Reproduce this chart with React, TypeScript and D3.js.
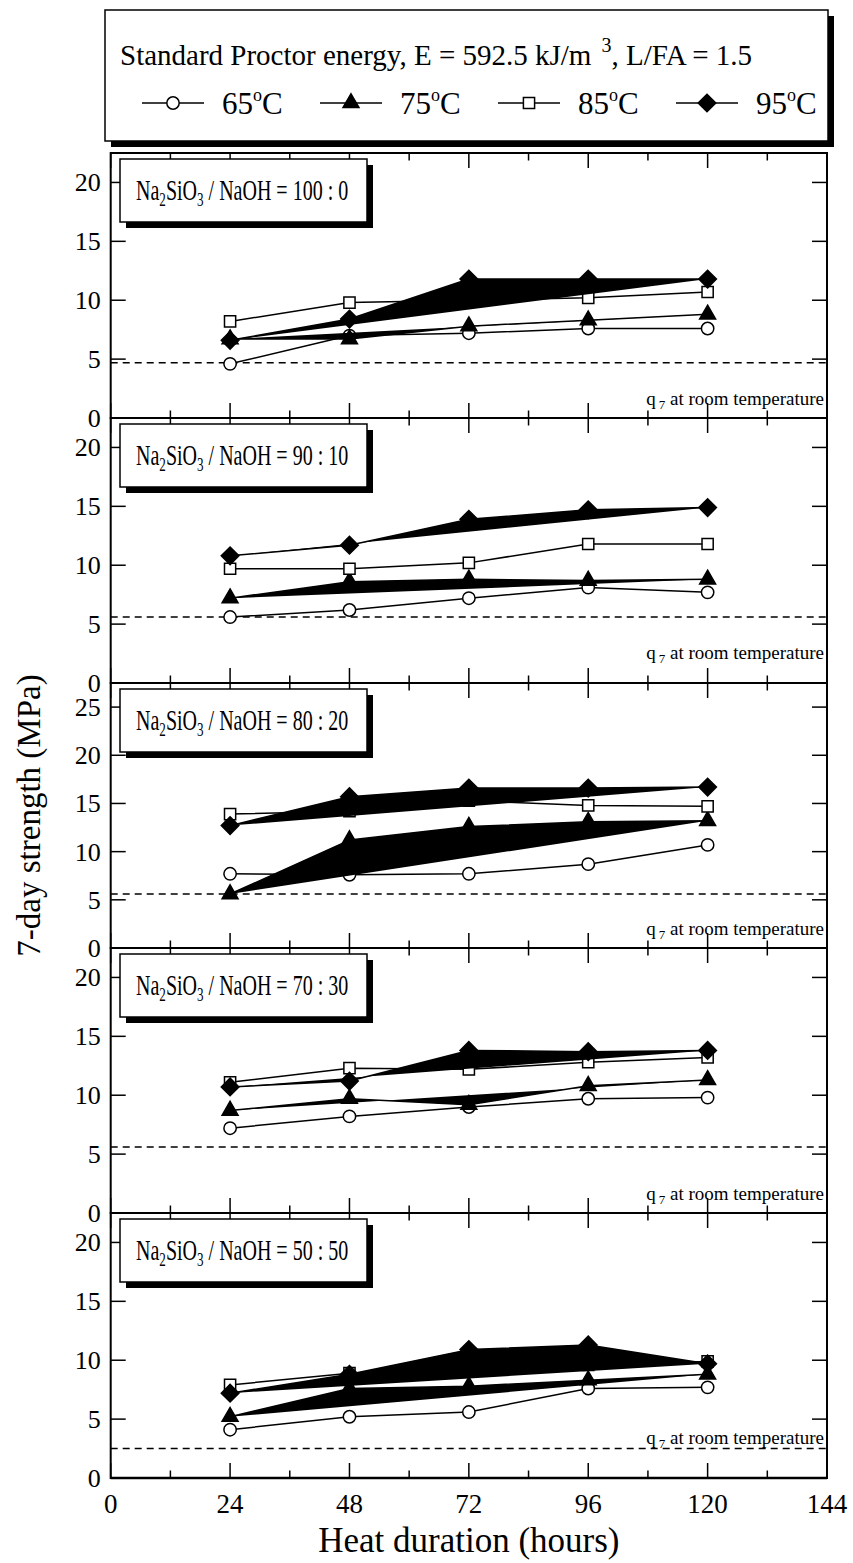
import React from "react";
import * as d3 from "d3";

// heat duration (hours) at which specimens were tested
const hours = [24, 48, 72, 96, 120];
const temperatures = ["65", "75", "85", "95"];
const ratioLabels = ["100 : 0", "90 : 10", "80 : 20", "70 : 30", "50 : 50"];
const xTicks = [0, 24, 48, 72, 96, 120, 144];
const yMaxes = [22.5, 22.5, 27.5, 22.5, 22.5];
const yTicksSmall = [0, 5, 10, 15, 20];
const yTicksLarge = [0, 5, 10, 15, 20, 25];
// q7 at room temperature (dashed line)
const roomQ7 = [4.7, 5.6, 5.6, 5.6, 2.5];

// 7-day strength (MPa), rows = 65, 75, 85, 95 degC
const ratio100_0 = [
  [4.6, 7.0, 7.2, 7.6, 7.6],
  [6.7, 6.7, 7.8, 8.3, 8.8],
  [8.2, 9.8, 10.0, 10.2, 10.7],
  [6.6, 8.4, 11.8, 11.8, 11.8],
];
const ratio90_10 = [
  [5.6, 6.2, 7.2, 8.1, 7.7],
  [7.2, 8.6, 8.8, 8.7, 8.8],
  [9.7, 9.7, 10.2, 11.8, 11.8],
  [10.8, 11.7, 13.9, 14.7, 14.9],
];
const ratio80_20 = [
  [7.7, 7.6, 7.7, 8.7, 10.7],
  [5.6, 11.2, 12.6, 13.1, 13.2],
  [13.9, 14.2, 15.3, 14.8, 14.7],
  [12.7, 15.7, 16.6, 16.6, 16.7],
];
const ratio70_30 = [
  [7.2, 8.2, 9.0, 9.7, 9.8],
  [8.7, 9.7, 9.2, 10.8, 11.3],
  [11.1, 12.3, 12.2, 12.8, 13.2],
  [10.7, 11.2, 13.8, 13.7, 13.8],
];
const ratio50_50 = [
  [4.1, 5.2, 5.6, 7.6, 7.7],
  [5.2, 7.6, 7.8, 8.3, 8.8],
  [7.9, 8.9, 9.2, 9.6, 9.9],
  [7.2, 8.8, 10.9, 11.3, 9.7],
];
const panels = [ratio100_0, ratio90_10, ratio80_20, ratio70_30, ratio50_50];

// layout
const W = 853;
const H = 1563;
const plotLeft = 110.7;
const plotRight = 827;
const firstTop = 153;
const panelH = 265;
const qLabelLift = [1.1, 2.0, 1.4, 1.1, 2.9];

const symbols = {
  circle: d3.symbol(d3.symbolCircle, 120)(),
  triangle: d3.symbol(d3.symbolTriangle, 110)(),
  square: d3.symbol(d3.symbolSquare, 125)(),
  diamond: d3.symbol(d3.symbolSquare, 155)(),
};
const styles = [
  { shape: "circle", fill: "white", lineFill: "none", rot: 0 },
  { shape: "triangle", fill: "black", lineFill: "black", rot: 0 },
  { shape: "square", fill: "white", lineFill: "none", rot: 0 },
  { shape: "diamond", fill: "black", lineFill: "black", rot: 45 },
];

function Marker({ cx, cy, i }: { cx: number; cy: number; i: number }) {
  const s = styles[i];
  return (
    <path
      d={symbols[s.shape]}
      transform={`translate(${cx},${cy}) rotate(${s.rot})`}
      fill={s.fill}
      stroke="black"
      strokeWidth={1.5}
    />
  );
}

function Panel({ idx }: { idx: number }) {
  const top = firstTop + idx * panelH;
  const bottom = top + panelH;
  const x = d3.scaleLinear().domain([0, 144]).range([plotLeft, plotRight]);
  const y = d3.scaleLinear().domain([0, yMaxes[idx]]).range([bottom, top]);
  const yTicks = yMaxes[idx] > 25 ? yTicksLarge : yTicksSmall;
  const line = d3
    .line<number>()
    .x((_, j) => x(hours[j]))
    .y((v) => y(v));
  const xMinor = d3.range(0, 145, 12);
  const data = panels[idx];
  return (
    <g>
      <line
        x1={plotLeft}
        x2={plotRight}
        y1={y(roomQ7[idx])}
        y2={y(roomQ7[idx])}
        stroke="black"
        strokeWidth={1.5}
        strokeDasharray="7,5"
      />
      <text x={plotRight - 3} y={y(qLabelLift[idx])} textAnchor="end" fontSize={19}>
        q<tspan fontSize={13} dy={4} dx={3}>7</tspan>
        <tspan dy={-4}> at room temperature</tspan>
      </text>
      {data.map((vals, i) => (
        <g key={i}>
          <path
            d={line(vals) || ""}
            fill={styles[i].lineFill}
            stroke="black"
            strokeWidth={1.5}
            strokeLinejoin="round"
          />
          {vals.map((v, j) => (
            <Marker key={j} cx={x(hours[j])} cy={y(v)} i={i} />
          ))}
        </g>
      ))}
      {xMinor.map((t) => {
        const len = t % 24 === 0 ? 15 : 7.5;
        return (
          <g key={"xt" + t}>
            <line x1={x(t)} x2={x(t)} y1={bottom} y2={bottom - len} stroke="black" strokeWidth={1.5} />
            <line x1={x(t)} x2={x(t)} y1={top} y2={top + len} stroke="black" strokeWidth={1.5} />
          </g>
        );
      })}
      {yTicks.map((t) => (
        <g key={"yt" + t}>
          <line x1={plotLeft} x2={plotLeft + 15} y1={y(t)} y2={y(t)} stroke="black" strokeWidth={1.5} />
          <line x1={plotRight} x2={plotRight - 15} y1={y(t)} y2={y(t)} stroke="black" strokeWidth={1.5} />
          <text x={plotLeft - 10} y={y(t) + 9} textAnchor="end" fontSize={26}>
            {t}
          </text>
        </g>
      ))}
      <rect
        x={plotLeft}
        y={top}
        width={plotRight - plotLeft}
        height={panelH}
        fill="none"
        stroke="black"
        strokeWidth={2}
      />
      {/* ratio label box */}
      <rect x={126} y={top + 12} width={247} height={63} fill="black" />
      <rect x={120} y={top + 6} width={247} height={63} fill="white" stroke="black" strokeWidth={1.5} />
      <g transform={`translate(136, ${top + 47}) scale(0.69, 1)`}>
        <text x={0} y={0} fontSize={29}>
          Na<tspan fontSize={19} dy={6}>2</tspan>
          <tspan dy={-6}>SiO</tspan>
          <tspan fontSize={19} dy={6}>3</tspan>
          <tspan dy={-6}>{" / NaOH = " + ratioLabels[idx]}</tspan>
        </text>
      </g>
    </g>
  );
}

export default function App() {
  const x = d3.scaleLinear().domain([0, 144]).range([plotLeft, plotRight]);
  const axisBottom = firstTop + panelH * 5;
  const legendX = (i: number) => 142 + i * 178;
  return (
    <svg
      width={W}
      height={H}
      style={{ position: "absolute", left: 0, top: 0, background: "white" }}
      fontFamily="'Liberation Serif', 'Times New Roman', serif"
    >
      {/* legend box */}
      <rect x={111} y={16} width={723} height={131} fill="black" />
      <rect x={105} y={10} width={723} height={131} fill="white" stroke="black" strokeWidth={1.5} />
      <text x={120} y={65} fontSize={29}>
        Standard Proctor energy, E = 592.5 kJ/m
        <tspan fontSize={20} dy={-13} dx={10}>3</tspan>
        <tspan dy={13}>, L/FA = 1.5</tspan>
      </text>
      {temperatures.map((t, i) => {
        const lx = legendX(i);
        return (
          <g key={t}>
            <line x1={lx} x2={lx + 62} y1={103} y2={103} stroke="black" strokeWidth={1.5} />
            <Marker cx={lx + 31} cy={103} i={i} />
            <text x={lx + 80} y={114} fontSize={31}>
              {t}
              <tspan fontSize={18} dy={-13}>o</tspan>
              <tspan dy={13}>C</tspan>
            </text>
          </g>
        );
      })}
      {ratioLabels.map((_, i) => (
        <Panel key={i} idx={i} />
      ))}
      <line x1={plotLeft} x2={plotRight} y1={axisBottom} y2={axisBottom} stroke="black" strokeWidth={2.5} />
      {xTicks.map((t) => (
        <text key={t} x={x(t)} y={axisBottom + 35} textAnchor="middle" fontSize={27}>
          {t}
        </text>
      ))}
      <text x={(plotLeft + plotRight) / 2} y={1552} textAnchor="middle" fontSize={35}>
        Heat duration (hours)
      </text>
      <text
        transform={`translate(40, ${firstTop + (panelH * 5) / 2}) rotate(-90)`}
        textAnchor="middle"
        fontSize={33}
      >
        7-day strength (MPa)
      </text>
    </svg>
  );
}
